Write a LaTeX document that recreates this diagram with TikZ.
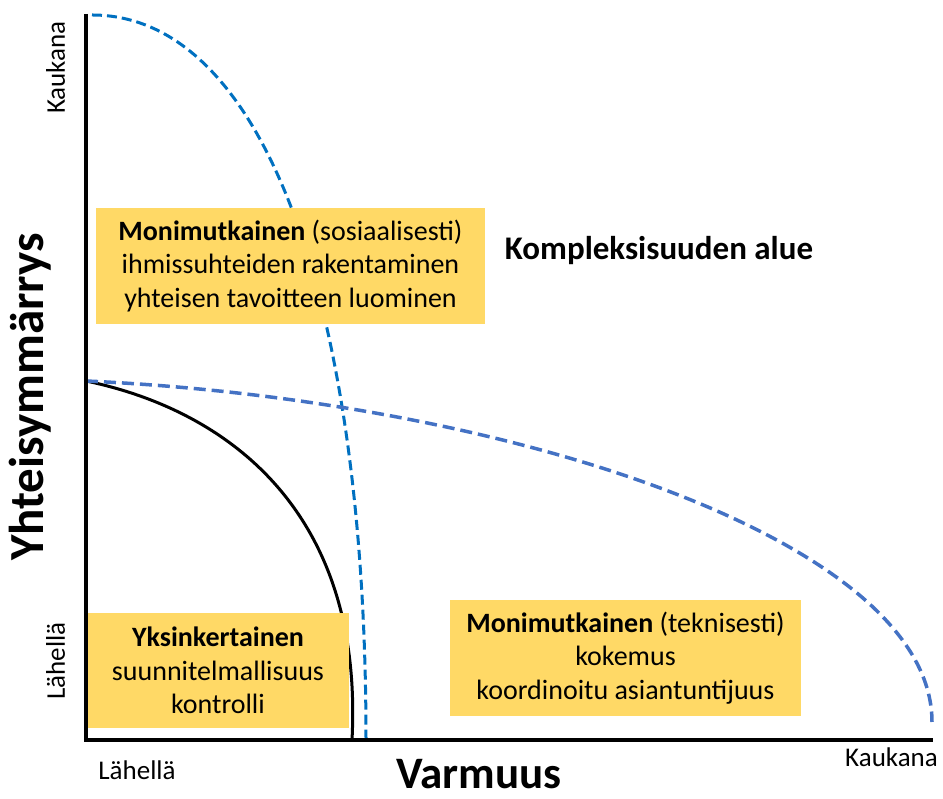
\documentclass[tikz,border=0pt]{standalone}
\usepackage{fontspec}
\setmainfont{Carlito}
\usepackage{xcolor}
\usepackage{tikz}
\usetikzlibrary{positioning}

\definecolor{boxgold}{HTML}{FFD966}
\definecolor{darkblue}{HTML}{0070C0}
\definecolor{midblue}{HTML}{4472C4}

\tikzset{
  areabox/.style={fill=boxgold, inner sep=0pt, align=center, font=\fontsize{28}{33.5}\selectfont},
  axislabel/.style={font=\fontsize{27}{30}\selectfont},
  bluedash/.style={line width=3pt, dash pattern=on 10pt off 5pt}
}

\begin{document}
\begin{tikzpicture}[x=1pt,y=1pt]

% Define parameters
\pgfmathsetmacro{\xlen}{847}
\pgfmathsetmacro{\ylen}{726}
\pgfmathsetmacro{\yhalf}{359}

\useasboundingbox (-86,-59) rectangle (857,740);

% Draw curves
\draw[line width=3pt] (0,\yhalf) .. controls (140,330) and (278,230) .. (266,0);
\draw[bluedash, darkblue] (6,725) .. controls (177,725) and (280,440) .. (280,0);
\draw[bluedash, midblue, line width=3.5pt, dash pattern=on 12pt off 6pt]
  (0,\yhalf) .. controls (420,340) and (846,200) .. (846,18);

% Draw boxes
\node[areabox, minimum width=389pt, minimum height=116pt] (social) at (204.5,474)
  {\textbf{Monimutkainen} (sosiaalisesti)\\ihmissuhteiden rakentaminen\\yhteisen tavoitteen luominen};
\node[areabox, minimum width=262pt, minimum height=115pt] (simple) at (132,69.5)
  {\textbf{Yksinkertainen}\\suunnitelmallisuus\\kontrolli};
\node[areabox, minimum width=351pt, minimum height=116pt] (technical) at (539.5,82)
  {\textbf{Monimutkainen} (teknisesti)\\kokemus\\koordinoitu asiantuntijuus};

% Draw axes
\coordinate (origin) at (0,0);
\coordinate (ytop) at (0,\ylen);
\coordinate (xend) at (\xlen,0);
\draw[line width=4.5pt] (ytop) -- (origin) -- (xend);

% Axis labels
\node[axislabel, rotate=90] (yfar) at (-30.5,672.5) {Kaukana};
\node[axislabel, rotate=90] (ynear) at (-30.5,79) {Lähellä};
\node[axislabel] (xnear) at (51,-30.5) {Lähellä};
\node[axislabel] (xfar) at (805.5,-17.5) {Kaukana};
\node[font=\bfseries\fontsize{49}{52}\selectfont, rotate=90] (ytitle) at (-56,343) {Yhteisymmärrys};
\node[font=\bfseries\fontsize{45}{48}\selectfont] (xtitle) at (393,-34) {Varmuus};

\node[font=\bfseries\fontsize{33}{36}\selectfont] (region) at (573,489) {Kompleksisuuden alue};

\end{tikzpicture}
\end{document}
